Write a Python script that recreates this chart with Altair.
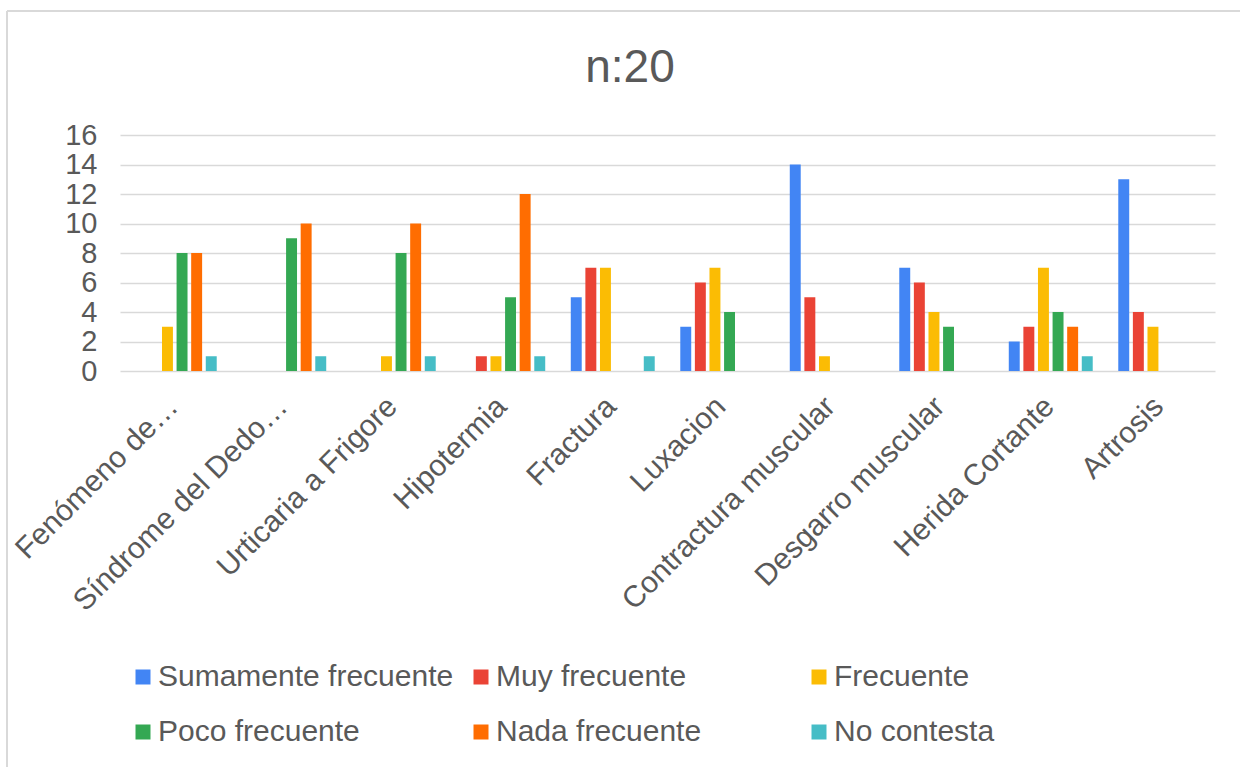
import altair as alt
import pandas as pd

# Categories on the x axis
categories = [
    "Fenómeno de…",
    "Síndrome del Dedo…",
    "Urticaria a Frigore",
    "Hipotermia",
    "Fractura",
    "Luxacion",
    "Contractura muscular",
    "Desgarro muscular",
    "Herida Cortante",
    "Artrosis",
]

# Answer options (one bar per option inside each category)
series = [
    "Sumamente frecuente",
    "Muy frecuente",
    "Frecuente",
    "Poco frecuente",
    "Nada frecuente",
    "No contesta",
]
colors = ["#4285F4", "#EA4335", "#FBBC04", "#34A853", "#FF6D01", "#46BDC6"]

# Counts per category, one list per answer option
sumamente = [0, 0, 0, 0, 5, 3, 14, 7, 2, 13]
muy = [0, 0, 0, 1, 7, 6, 5, 6, 3, 4]
frecuente = [3, 0, 1, 1, 7, 7, 1, 4, 7, 3]
poco = [8, 9, 8, 5, 0, 4, 0, 3, 4, 0]
nada = [8, 10, 10, 12, 0, 0, 0, 0, 3, 0]
no_contesta = [1, 1, 1, 1, 1, 0, 0, 0, 1, 0]

y_ticks = [0, 2, 4, 6, 8, 10, 12, 14, 16]
title_text = "n:20"

values_by_series = [sumamente, muy, frecuente, poco, nada, no_contesta]
rows = []
for name, vals in zip(series, values_by_series):
    for cat, v in zip(categories, vals):
        rows.append({"categoria": cat, "respuesta": name, "valor": v})
df = pd.DataFrame(rows)

FONT = "Liberation Sans"
TEXT = "#595959"
GRID = "#d9d9d9"

bars = (
    alt.Chart(df)
    .mark_bar()
    .encode(
        x=alt.X(
            "categoria:N",
            sort=categories,
            scale=alt.Scale(paddingInner=0.2, paddingOuter=0.1),
            axis=alt.Axis(
                title=None,
                labelAngle=-45,
                labelFontSize=30,
                labelColor=TEXT,
                labelFont=FONT,
                labelPadding=20,
                labelOffset=-12,
                domain=False,
                ticks=False,
                grid=False,
                labelLimit=400,
            ),
        ),
        xOffset=alt.XOffset(
            "respuesta:N",
            sort=series,
            scale=alt.Scale(paddingInner=0.25, paddingOuter=0.125),
        ),
        y=alt.Y(
            "valor:Q",
            scale=alt.Scale(domain=[0, 16], nice=False),
            axis=alt.Axis(
                title=None,
                values=y_ticks,
                labelFontSize=29,
                labelColor=TEXT,
                labelFont=FONT,
                labelPadding=23,
                labelOverlap=False,
                labelFlush=False,
                domain=False,
                ticks=False,
                gridColor=GRID,
                gridWidth=1.5,
            ),
        ),
        color=alt.Color(
            "respuesta:N",
            sort=series,
            scale=alt.Scale(domain=series, range=colors),
            legend=alt.Legend(
                title=None,
                orient="none",
                legendX=8,
                legendY=527,
                direction="horizontal",
                columns=3,
                gridAlign="all",
                symbolType="square",
                symbolSize=225,
                symbolStrokeWidth=0,
                labelFontSize=30,
                labelColor=TEXT,
                labelFont=FONT,
                labelOffset=0,
                columnPadding=12,
                rowPadding=25,
                padding=0,
                labelLimit=400,
            ),
        ),
    )
)

# Chart title drawn as text centred over the whole figure
title = alt.Chart(alt.Data(values=[{}])).mark_text(
    text=title_text,
    font=FONT,
    fontSize=46,
    color=TEXT,
    align="center",
    baseline="alphabetic",
).encode(x=alt.value(510), y=alt.value(-53))

# Light frame around the chart (left and top edges)
frame_data = alt.Data(values=[{}])
frame_left = alt.Chart(frame_data).mark_rule(color=GRID, strokeWidth=2).encode(
    x=alt.value(-113), y=alt.value(-124), y2=alt.value(650)
)
frame_top = alt.Chart(frame_data).mark_rule(color=GRID, strokeWidth=2).encode(
    x=alt.value(-113), x2=alt.value(1140), y=alt.value(-124)
)

chart = (
    alt.layer(frame_left, frame_top, title, bars)
    .properties(
        width=1095,
        height=236,
        autosize=alt.AutoSizeParams(type="none"),
        padding={"left": 120, "top": 135, "right": 25, "bottom": 396},
        background="white",
    )
    .configure_view(stroke=None)
)

chart.save("out.html", embed_options={"renderer": "svg", "actions": False})
